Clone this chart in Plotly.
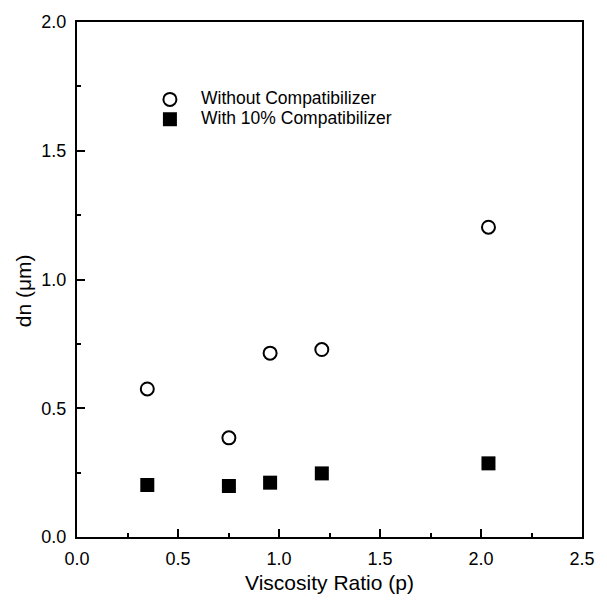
import plotly.graph_objects as go

# Viscosity ratio (p) and number-average droplet diameter dn (µm)
viscosity_ratio = [0.348, 0.752, 0.956, 1.212, 2.037]
dn_without = [0.575, 0.385, 0.714, 0.728, 1.203]
dn_with_10pct = [0.202, 0.198, 0.211, 0.247, 0.286]

series_names = ["Without Compatibilizer", "With 10% Compatibilizer"]
x_ticks = [0.0, 0.5, 1.0, 1.5, 2.0, 2.5]
y_ticks = [0.0, 0.5, 1.0, 1.5, 2.0]

FONT = "Liberation Sans, Arial, Helvetica, sans-serif"
BLACK = "black"

circle_marker = dict(symbol="circle-open", size=13, color=BLACK, line=dict(width=2, color=BLACK))
square_marker = dict(symbol="square", size=14, color=BLACK, line=dict(width=0))

fig = go.Figure()
fig.add_trace(go.Scatter(
    x=viscosity_ratio, y=dn_without, mode="markers", name=series_names[0],
    marker=circle_marker, showlegend=False,
))
fig.add_trace(go.Scatter(
    x=viscosity_ratio, y=dn_with_10pct, mode="markers", name=series_names[1],
    marker=square_marker, showlegend=False,
))

axis_common = dict(
    showline=True, linecolor=BLACK, linewidth=2, mirror=True,
    ticks="inside", ticklen=8, tickwidth=1.5, tickcolor=BLACK,
    showgrid=False, zeroline=False, tickformat=".1f",
    tickfont=dict(family=FONT, size=18, color=BLACK),
)
minor_ticks = dict(ticks="inside", ticklen=4, dtick=0.25, tickcolor=BLACK, tickwidth=1.5)

fig.update_xaxes(
    range=[0, 2.5], tickvals=x_ticks, minor=minor_ticks, ticklabelstandoff=4,
    title=dict(text="Viscosity Ratio (p)", font=dict(family=FONT, size=21, color=BLACK), standoff=8),
    **axis_common,
)
fig.update_yaxes(
    range=[0, 2.0], tickvals=y_ticks, minor=minor_ticks, ticklabelstandoff=5,
    **axis_common,
)

# y-axis title placed as a rotated annotation
annotations = [dict(
    text="dn (μm)", xref="paper", yref="paper", x=-0.106, y=0.478,
    xanchor="center", yanchor="middle", textangle=-90, showarrow=False,
    font=dict(family=FONT, size=21, color=BLACK),
)]

# key: symbol + label for each series, positioned in the upper-left of the plot
key_x_symbol = 0.184
key_x_text = 0.243
key_rows_y = [0.8497, 0.8112]
shapes = [
    dict(type="circle", xref="paper", yref="paper", xsizemode="pixel", ysizemode="pixel",
         xanchor=key_x_symbol, yanchor=key_rows_y[0], x0=-6.5, x1=6.5, y0=-6.5, y1=6.5,
         line=dict(color=BLACK, width=2), fillcolor="rgba(0,0,0,0)"),
    dict(type="rect", xref="paper", yref="paper", xsizemode="pixel", ysizemode="pixel",
         xanchor=key_x_symbol, yanchor=key_rows_y[1], x0=-7, x1=7, y0=-7, y1=7,
         line=dict(width=0), fillcolor=BLACK),
]
for name, yk in zip(series_names, key_rows_y):
    annotations.append(dict(
        text=name, xref="paper", yref="paper", x=key_x_text, y=yk + 0.003,
        xanchor="left", yanchor="middle", showarrow=False, borderpad=0,
        font=dict(family=FONT, size=17.5, color=BLACK),
    ))

fig.update_layout(
    width=607, height=606,
    margin=dict(l=77, r=15, t=18, b=69),
    paper_bgcolor="white", plot_bgcolor="white",
    font=dict(family=FONT, color=BLACK),
    annotations=annotations, shapes=shapes,
    showlegend=False,
)

fig.write_html("out.html")
